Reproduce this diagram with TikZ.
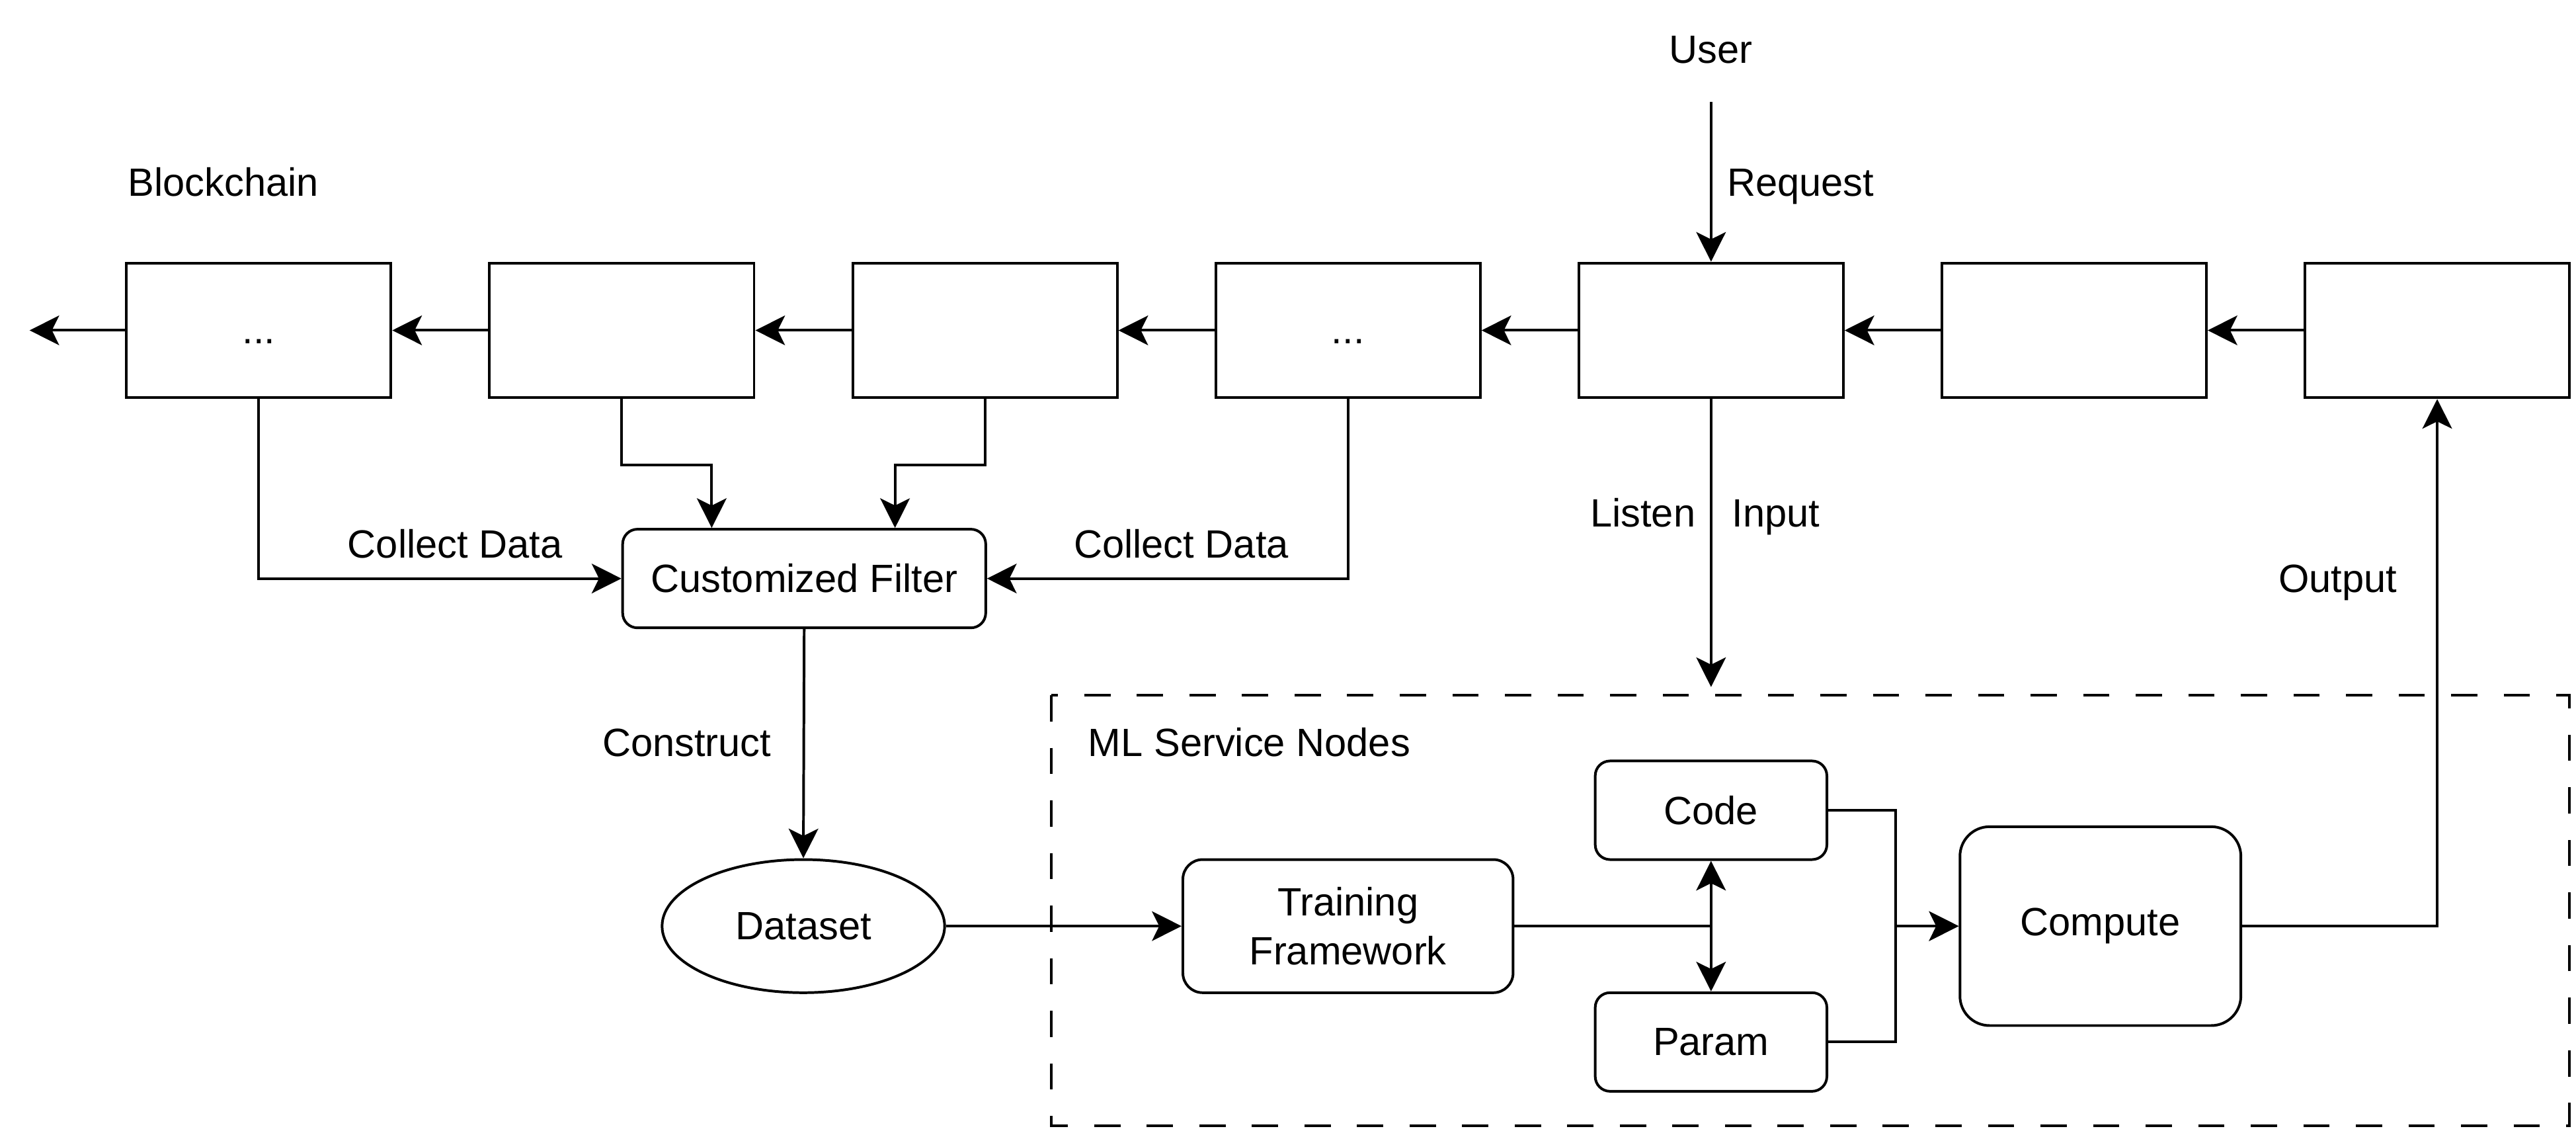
\documentclass[tikz,border=0pt]{standalone}
\usepackage{fontspec}
\setmainfont{Liberation Sans}
\usetikzlibrary{arrows.meta,shapes.geometric}
\begin{document}
\begin{tikzpicture}[x=0.5pt,y=-0.5pt,
  every node/.style={font=\fontsize{12pt}{15pt}\selectfont},
  ln/.style={line width=0.8pt},
  arr/.style={ln,-{Stealth[length=9pt,width=9pt,inset=2.2pt]}},
  blk/.style={draw,ln,minimum width=80.5pt,minimum height=41pt,inner sep=0pt,text height=10.5pt,text depth=2.5pt},
  rbox/.style={draw,ln,inner sep=0pt,align=center},
  lbl/.style={inner sep=0pt,text height=10.9pt,text depth=2.5pt}]
\useasboundingbox (0,0) rectangle (1568,692.7);
% blockchain row
\node[blk] (b1) at (157.5,201) {...};
\node[blk] (b2) at (378.5,201) {};
\node[blk] (b3) at (599.5,201) {};
\node[blk] (b4) at (820.5,201) {...};
\node[blk] (b5) at (1041.5,201) {};
\node[blk] (b6) at (1262.5,201) {};
\node[blk] (b7) at (1483.5,201) {};
\coordinate (lend) at (18,201);
\coordinate (utop) at (1041.5,62);
\coordinate (lis) at (1041.5,418);
% other nodes
\node[rbox,minimum width=110.5pt,minimum height=30pt,rounded corners=4.5pt] (filt) at (489.5,352) {Customized Filter};
\node[draw,ln,ellipse,minimum width=86pt,minimum height=40.5pt,inner sep=0pt] (ds) at (489,563.5) {Dataset};
\node[rbox,minimum width=100.5pt,minimum height=40.5pt,rounded corners=6pt] (tf) at (820.5,563.5) {Training\\Framework};
\node[rbox,minimum width=70.5pt,minimum height=30pt,rounded corners=4.5pt] (code) at (1041.5,493) {Code};
\node[rbox,minimum width=70.5pt,minimum height=30pt,rounded corners=4.5pt] (param) at (1041.5,634) {Param};
\node[rbox,minimum width=85.5pt,minimum height=60.5pt,rounded corners=9pt] (comp) at (1278.5,563.5) {Compute};
% dashed container
\draw[ln,dash pattern=on 8pt off 8pt] (640,423) rectangle (1564,685);
% labels
\node[lbl] (user) at (1041.5,30) {User};
\node[lbl] (req) at (1096,111) {Request};
\node[lbl] (bc) at (136,111) {Blockchain};
\node[lbl] (cd1) at (277,331) {Collect Data};
\node[lbl] (cd2) at (719,331) {Collect Data};
\node[lbl] (lst) at (1000,312) {Listen};
\node[lbl] (inp) at (1081,312) {Input};
\node[lbl] (cons) at (418,452) {Construct};
\node[lbl,anchor=west] (mls) at (662,452) {ML Service Nodes};
\node[lbl] (outp) at (1423,352) {Output};
% connectors
\draw[arr] (b1.west) -- (lend);
\draw[arr] (b2.west) -- (b1.east);
\draw[arr] (b3.west) -- (b2.east);
\draw[arr] (b4.west) -- (b3.east);
\draw[arr] (b5.west) -- (b4.east);
\draw[arr] (b6.west) -- (b5.east);
\draw[arr] (b7.west) -- (b6.east);
\draw[arr] (utop) -- (b5.north);
\draw[arr] (b1.south) |- (filt.west);
\draw[arr] (b2.south) -- ++(0,40) -| ([xshift=27.5pt]filt.north west);
\draw[arr] (b3.south) -- ++(0,40) -| ([xshift=-28pt]filt.north east);
\draw[arr] (b4.south) |- (filt.east);
\draw[arr] (filt.south) -- (ds.north);
\draw[arr] (ds.east) -- (tf.west);
\draw[arr] (tf.east) -| (code.south);
\draw[arr] (tf.east) -| (param.north);
\draw[arr] (code.east) -- ++(41,0) |- (comp.west);
\draw[arr] (param.east) -- ++(41,0) |- (comp.west);
\draw[arr] (comp.east) -| (b7.south);
\draw[arr] (b5.south) -- (lis);
\end{tikzpicture}
\end{document}
